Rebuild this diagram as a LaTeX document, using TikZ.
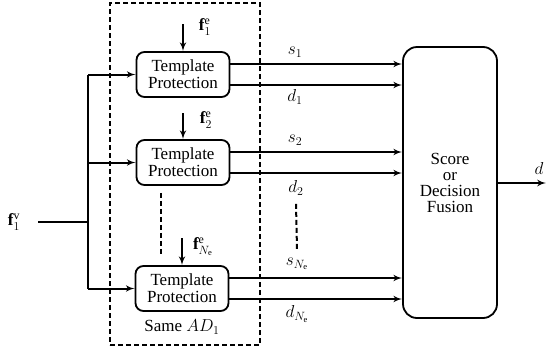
\documentclass[tikz,border=0pt]{standalone}
\usepackage{fontspec}
\setmainfont{Liberation Serif}
\usetikzlibrary{arrows}

\begin{document}
\begin{tikzpicture}[x=1pt,y=-1pt]
\tikzset{font=\rmfamily\fontsize{17}{17}\selectfont}
\tikzset{block/.style = {shape=rectangle,draw,rounded corners=8pt,line width=1.8pt,
	minimum width=93pt,minimum height=45pt,align=center,inner sep=0pt}}
\tikzset{fuse/.style = {shape=rectangle,draw,rounded corners=14pt,line width=1.8pt,
	minimum width=94pt,minimum height=271pt,align=center,inner sep=0pt,
	font=\rmfamily\fontsize{17}{16}\selectfont}}
\tikzset{edge/.style = {line width=2pt,-latex'}}
\tikzset{wire/.style = {line width=2pt}}
\tikzset{dots/.style = {line width=2pt,dash pattern=on 5pt off 3pt}}
\useasboundingbox (0,0) rectangle (546,354);

% frame around the protection blocks
\node[draw,dots,minimum width=150pt,minimum height=342pt,inner sep=0pt] (same) at (185,174) {};
\node (ad) at (182,327) {Same $AD_1$};

% blocks
\node[block] (tp1) at (183,74.5) {Template\\Protection};
\node[block] (tp2) at (183,162.5) {Template\\Protection};
\node[block] (tp3) at (182,288.5) {Template\\Protection};
\node[fuse] (fusion) at (450,182.5) {Score\\or\\Decision\\Fusion};

% labels
\node (fv) at (14,222) {$\mathbf{f}_1^{\mathrm{v}}$};
\node (fe1) at (205,27) {$\mathbf{f}_1^{\mathrm{e}}$};
\node (fe2) at (206,120) {$\mathbf{f}_2^{\mathrm{e}}$};
\node (fe3) at (203,247) {$\mathbf{f}_{N_{\mathrm{e}}}^{\mathrm{e}}$};
\node (s1) at (295,52) {$s_1$};
\node (d1) at (295,97) {$d_1$};
\node (s2) at (295,140) {$s_2$};
\node (d2) at (296,188) {$d_2$};
\node (s3) at (297,264) {$s_{N_{\mathrm{e}}}$};
\node (d3) at (297,314) {$d_{N_{\mathrm{e}}}$};
\node (dout) at (539,168) {$d$};

\coordinate (in) at (38,222);
\coordinate (split) at (88,222);
\coordinate (e1) at (183,24);
\coordinate (e2) at (183,113);
\coordinate (e3) at (182,238);
\coordinate (out) at (546,183);

%edges
\draw[wire] (in) -- (split);
\draw[wire] (split |- tp1) -- (split |- tp3);
\draw[edge] (split |- tp1) -- (tp1);
\draw[edge] (split |- tp2) -- (tp2);
\draw[edge] (split |- tp3) -- (tp3);

\draw[edge] (e1) -- (tp1);
\draw[edge] (e2) -- (tp2);
\draw[edge] (e3) -- (tp3);

\draw[edge] ([yshift=10.5pt]tp1.east) -- ([yshift=10.5pt]tp1.east -| fusion.west);
\draw[edge] ([yshift=-10.5pt]tp1.east) -- ([yshift=-10.5pt]tp1.east -| fusion.west);
\draw[edge] ([yshift=10.5pt]tp2.east) -- ([yshift=10.5pt]tp2.east -| fusion.west);
\draw[edge] ([yshift=-10.5pt]tp2.east) -- ([yshift=-10.5pt]tp2.east -| fusion.west);
\draw[edge] ([yshift=10.5pt]tp3.east) -- ([yshift=10.5pt]tp3.east -| fusion.west);
\draw[edge] ([yshift=-10.5pt]tp3.east) -- ([yshift=-10.5pt]tp3.east -| fusion.west);

\draw[edge] (fusion.east |- out) -- (out);

\draw[dots] ([xshift=-22pt,yshift=-7pt]tp2.south) -- ([xshift=-21pt,yshift=9pt]tp3.north);
\draw[dots] ([yshift=-5pt]d2.south) -- ([yshift=5pt]s3.north);
\end{tikzpicture}
\end{document}
